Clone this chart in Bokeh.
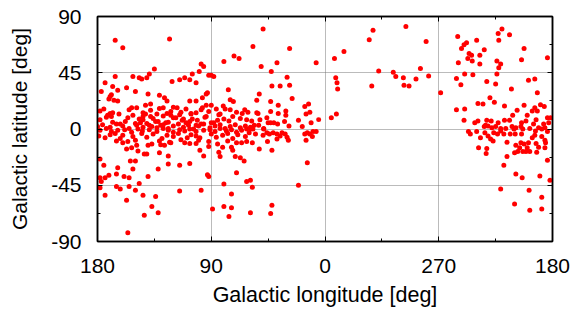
from bokeh.plotting import figure
from bokeh.models import Range1d, FixedTicker, LinearAxis
from bokeh.embed import file_html
from bokeh.resources import INLINE

# Galactic longitude / latitude of the sources (deg)
lon = [
    # high-latitude, l 180..60
    166, 160, 123, 166, 174, 177, 135, 139, 152, 147, 145, 141, 157, 150, 168, 164, 169, 170, 171, 167,
    164, 140, 131, 127, 142, 138, 125, 121, 115, 111, 107, 105, 102, 99.5, 98, 96, 92, 90, 88, 80,
    72, 68, 76.5, 75, 72.5, 80.5, 94, 93, 97, 102, 107, 94, 90, 63.5, 65.5,
    # band b 12..17
    178, 175, 170, 168, 163, 155, 149, 144, 138, 131, 125, 122, 120, 114, 110, 106, 102, 98, 92, 83,
    79, 75, 70, 61,
    # band b 5..12
    178, 173, 169, 168, 158, 152, 150, 147, 144, 142, 138, 136, 132, 128, 124, 120, 115, 112, 107, 106,
    101, 95, 90, 84, 80, 76, 73, 67, 62,
    # band b 0..4
    180, 176, 170, 165, 160, 155, 149, 144, 141, 137, 133, 128, 124, 120, 116, 112, 108, 104, 100, 96,
    91, 87, 83, 79, 75, 71, 67, 63, 59,
    # extra band points
    146, 139, 126, 118, 110, 105, 98, 94, 88, 134, 130, 122, 113, 102, 156, 162, 172, 85, 117, 128,
    153, 97, 86, 133, 144,
    # southern, l 180..60
    156, 143, 132, 137, 134, 144, 157, 174, 178, 162, 165, 155, 150, 147, 140, 177, 178, 174, 171, 165,
    164, 159, 155, 152, 154, 150, 175, 178, 132, 124, 124, 115, 107, 115, 98, 93, 92, 89, 80, 74,
    76, 74, 80, 70, 62, 59, 59, 71, 67, 64, 83, 84, 96, 99, 92, 143, 141, 148, 131, 157,
    153, 149, 140, 130, 127, 122, 111, 102, 81, 74, 66, 73,
    # band b -2..0
    178, 173, 169, 164, 158.5, 153, 148, 144.5, 139, 133, 128, 124, 120, 115, 111, 107, 102, 96, 91, 87,
    83, 78, 74, 70, 66, 62,
    # band b -7..-3
    179, 174, 170, 166, 162, 160, 152, 145, 141, 136, 129, 125, 120, 116, 109, 106, 102, 99, 90, 86,
    81, 77, 73, 69, 63, 60,
    # band b -12..-8
    165, 160, 156, 150, 137, 131, 123, 114, 107, 100, 92, 85, 77, 70, 62,
    # l 60..0 north
    49, 57, 28, 50.5, 38, 42.5, 7, 30, 42, 35.5, 28, 52, 54, 43, 26, 37, 54, 53, 43, 37,
    31, 31, 16, 13, 12, 15, 21, 5, 11, 32, 46, 51.5, 58, 45, 43, 40.5, 37.5, 56, 52.5, 28.5,
    18, 48.5,
    # l 360..300 north
    355, 351, 352.5, 345, 325, 322, 351.5, 350.5, 350, 323, 317.5, 306, 304,
    # l 60..0 south
    59, 57, 55, 57.5, 49, 48.5, 46, 45.5, 44, 41, 38, 38, 35.5, 34, 31.5, 30, 29, 16, 15, 14,
    12, 10, 9.5, 7, 52, 42, 14, 57.5, 21, 42, 43,
    # l 300..180 north
    296, 280, 284.5, 298, 297.5, 293.5, 288, 278, 268.5, 255, 252, 250, 248, 240, 246, 244, 247, 243.5, 237.5, 234,
    254.5, 237.5, 249.5, 243, 256, 252.5, 232, 225, 224, 224, 221, 222.5, 223, 220, 222.5, 214, 202.5, 204.5, 184, 199,
    194, 212.5, 192, 256, 249.5, 239, 235, 229.5, 226, 218, 208, 211.5, 202.5, 196, 194, 192, 189.5, 186.5, 200, 250,
    241.5, 239, 232, 228.5, 223, 218, 214, 204.5, 201, 195, 193, 187, 184, 183, 181.5,
    234, 233, 231, 228, 225, 221, 217, 212, 209, 205, 198, 191, 186,
    # l 250..180 south
    246.5, 245, 240, 237, 238.5, 232, 232.5, 233.5, 231, 229, 227, 226.5, 223.5, 221, 218.5, 216, 213.5, 210.5, 209.5, 209,
    210, 216, 207.5, 205, 206, 203.5, 202.5, 201, 199, 198, 200, 204.5, 203.5, 196, 194, 193, 192.5, 191, 188.5, 186,
    185.5, 186, 184, 188.5, 193.5, 184, 218.5, 209, 204, 190, 182, 221, 198.5, 188.5, 210, 198, 188.5,
]
lat = [
    71, 65, 72, 42, 37, 30, 48, 44, 42, 41, 40, 41, 33, 30, 34, 31, 27.5, 26, 24, 23,
    22.5, 28, 27, 25, 19, 20, 22.5, 38, 39.5, 41, 39.5, 44, 37, 46, 52, 50, 43, 43, 42, 54,
    58.5, 56.5, 31.5, 23.5, 22, 18.5, 28, 29, 25, 22.5, 22.5, 19, 19, 15.5, 12.5,
    14.5, 16, 12.5, 13, 12, 15.5, 17, 13, 15, 16.5, 12.5, 14, 17.5, 13.5, 16, 12, 13, 15.5, 14, 12,
    16, 15.5, 13.5, 13.5,
    7.5, 9.5, 10, 5.5, 6, 11, 4.5, 8, 7.5, 12, 10, 8.5, 6, 10.5, 5.5, 9, 11.5, 8, 6, 12.5,
    7, 9.5, 5, 11.5, 8, 6.5, 10, 8.5, 7.5,
    2, 3.5, 1.5, 4, 2.5, 0.5, 3, 1.5, 4.5, 2, 1, 3.5, 0.5, 2.5, 4, 1.5, 3, 0, 2.5, 4,
    1, 2.5, 3.5, 0.5, 2, 3.5, 1, 2.5, 1.5,
    5, 3, 5, 9, 5, 8, 4, 10, 5, 6, 3, 11, 7, 3, 9, 4, 11, 7, 17, 17,
    17, 17, 16, 12, 10,
    -83, -69, -67, -62, -54, -53, -57, -53, -47, -48, -46, -46, -49, -43.5, -38, -42, -39, -39, -37, -36,
    -31, -38, -39, -32, -25.5, -25.5, -29, -24, -32, -28, -21.5, -29, -27.5, -49.5, -49, -36.5, -38, -64, -62, -63,
    -70, -52, -44, -35, -42, -41, -67, -22, -23, -25.5, -22, -18.5, -21.5, -17, -14, -20, -20, -17.5, -19, -16,
    -15, -13, -13, -12.5, -13, -11, -11, -11.5, -14.5, -14.5, -11, -17,
    -1, 0.5, -2, -1, -0.5, -2.5, 0, -1.5, -0.5, -2, 0.5, -1, -2.5, -0.5, -1.5, 0, -2, -1, -0.5, -2,
    0.5, -1.5, -0.5, -2.5, -1, 0,
    -5.5, -7, -4.5, -3.5, -7.5, -5, -6, -3.5, -6.5, -4, -7.5, -5, -6, -3.5, -7, -4.5, -5.5, -7, -4, -6.5,
    -5, -3.5, -7.5, -4.5, -6, -3,
    -9.5, -11, -10, -9, -12, -9.5, -10.5, -8.5, -11.5, -9, -10, -12, -9.5, -11, -10,
    80, 66, 64.5, 50, 53, 46, 53, 41.5, 34.5, 34.5, 35, 28, 23, 22, 24.5, 19, 13, 12.5, 14, 12.5,
    14.5, 11, 18, 20, 13.5, 12, 7, 7.5, 5, 6, 9, 7.5, 6.5, 5, 5, 5, 4, 3, 3, 2.5,
    2, 0.5,
    9, 12, 56.5, 62, 71.5, 79, 41, 37, 32, 34.5, 46.5, 45.5, 42,
    0, 0, -4, -11, -5, 0, -3, -10, -4, -3, -4, -8, -5.5, -3, -4, -6.5, -9, -4, -9, -3,
    -4, -6, -2, -2, -16, -17, -27, -46.5, -45, -61, -67.5,
    82, 70, 48.5, 41, 35, 34.5, 40, 42.5, 29, 74, 64.5, 67.5, 69, 71, 60.5, 59, 56.5, 54.5, 59, 63.5,
    53, 52, 44, 43.5, 40.5, 35.5, 38, 36, 44, 54.5, 52, 49, 76.5, 80, 71, 75.5, 64.5, 55.5, 57, 39,
    40, 32, 29, 15.5, 16, 20.5, 20, 25, 21.5, 18.5, 15, 11, 19, 14.5, 17, 14.5, 19.5, 18, 11, 7,
    5, 6.5, 7, 6.5, 5, 7, 7, 5, 6.5, 4, 7.5, 4, 9, 5, 9,
    2, 3, 2.5, 1, 2, 0.5, 0.5, 2, 1, 2, 0.5, 1, 1,
    -2, -4, -2, -7, -15, -15.5, -19.5, -3, -5.5, -8, -9.5, -3, -4, -1.5, -4, -10.5, -4, 0, -4, -13,
    -19, -22, -18, -11, -15, -18, -12, -18, -11, -18, -15, -4, 0, -7, -5, -11.5, -18.5, -14.5, -6, -9,
    -11, -15, -25, 0, -1.5, -2, -29, -36, -39, -37.5, -41, -48, -49, -54.5, -60, -65, -64,
]

x_tick_vals = [0, 90, 180, 270, 360]
x_tick_labels = ["180", "90", "0", "270", "180"]
x_minor = [45, 135, 225, 315]
y_tick_vals = [-90, -45, 0, 45, 90]
y_minor = [-67.5, -22.5, 22.5, 67.5]

# longitude runs 180 -> 0 -> 360(=0) -> 180 from left to right
xpos = [180 - l if l <= 180 else 540 - l for l in lon]

FONT = "Liberation Sans"
p = figure(width=570, height=309, x_range=Range1d(0, 360), y_range=Range1d(-90, 90),
           output_backend="svg", toolbar_location=None,
           min_border_left=97, min_border_right=18, min_border_top=16, min_border_bottom=67)
p.outline_line_color = "black"
p.outline_line_width = 1.5
p.background_fill_color = "white"
p.border_fill_color = "white"

xt = FixedTicker(ticks=x_tick_vals, minor_ticks=x_minor)
yt = FixedTicker(ticks=y_tick_vals, minor_ticks=y_minor)

def style(ax, labels=True):
    ax.axis_line_color = "black"
    ax.axis_line_width = 1.5
    ax.major_tick_in = 5
    ax.major_tick_out = 0
    ax.minor_tick_in = 3
    ax.minor_tick_out = 0
    ax.major_tick_line_color = "black"
    ax.minor_tick_line_color = "black"
    ax.major_label_text_font = FONT
    if labels:
        ax.major_label_text_font_size = "21px"
        ax.major_label_text_color = "black"
    else:
        ax.major_label_text_font_size = "0px"
        ax.major_label_text_color = None
    ax.axis_label_text_font = FONT
    ax.axis_label_text_font_size = "21px"
    ax.axis_label_text_font_style = "normal"
    ax.axis_label_text_color = "black"

p.xaxis.ticker = xt
p.yaxis.ticker = yt
p.xaxis.major_label_overrides = {v: s for v, s in zip(x_tick_vals, x_tick_labels)}
p.yaxis.major_label_overrides = {v: str(v) for v in y_tick_vals}
style(p.xaxis[0]); style(p.yaxis[0])
p.xaxis.axis_label = "Galactic longitude [deg]"
p.yaxis.axis_label = "Galactic latitude [deg]"
p.xaxis.axis_label_text_font_size = "21.5px"
p.xaxis.major_label_standoff = 17
p.yaxis.major_label_standoff = 16
p.xaxis.axis_label_standoff = 7
p.yaxis.axis_label_standoff = 17

top = LinearAxis(ticker=xt); style(top, False)
right = LinearAxis(ticker=yt); style(right, False)
p.add_layout(top, "above")
p.add_layout(right, "right")

p.xgrid.ticker = xt
p.ygrid.ticker = yt
for g in (p.xgrid[0], p.ygrid[0]):
    g.grid_line_color = "#777777"
    g.grid_line_dash = "1 1"
    g.grid_line_width = 1

p.scatter(xpos, lat, size=5, fill_color="#ff0000", line_color=None)

open("out.html", "w").write(file_html(p, INLINE))
